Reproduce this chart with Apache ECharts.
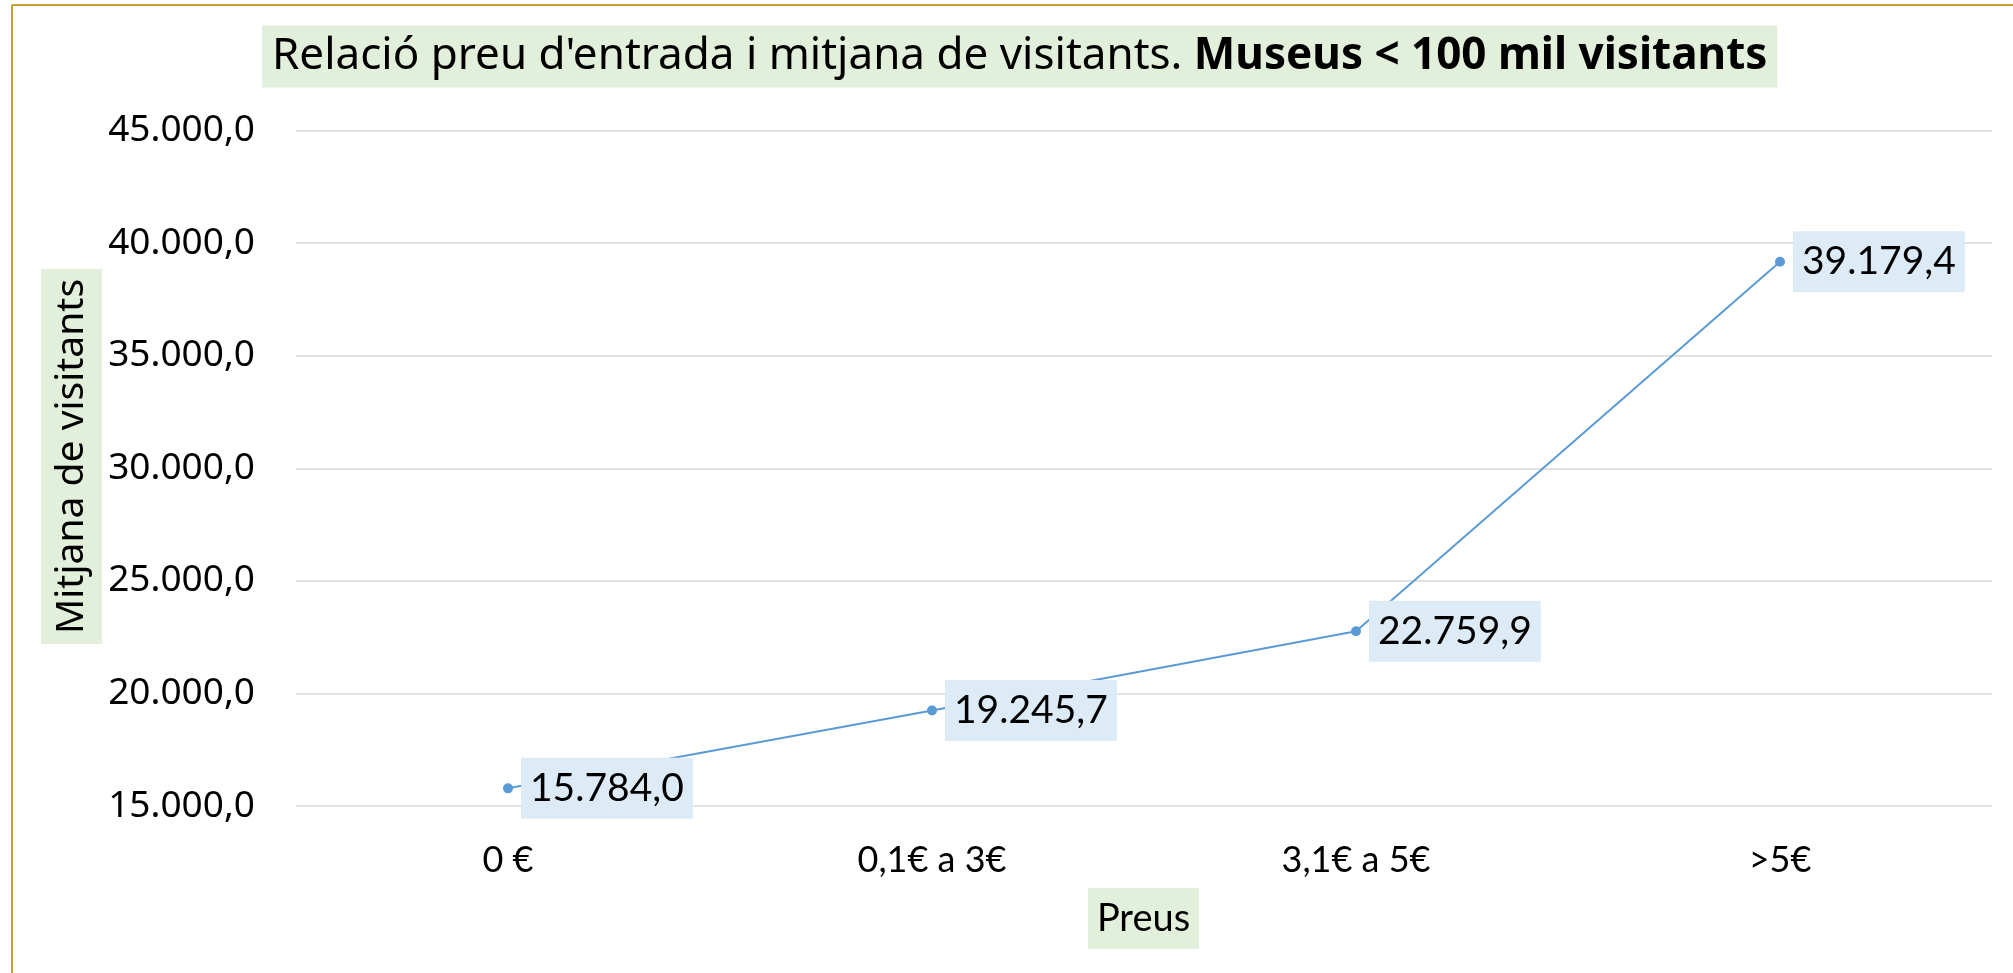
<!DOCTYPE html>
<html>
<head>
<meta charset="utf-8">
<script src="https://cdn.jsdelivr.net/npm/echarts@6/dist/echarts.min.js"></script>
<style>
html,body{margin:0;padding:0;background:#fff;}
#chart{width:2013px;height:973px;}
</style>
</head>
<body>
<div id="chart"></div>
<script>
const categories = ['0 €', '0,1€ a 3€', '3,1€ a 5€', '>5€'];
const visitants = [15784.0, 19245.7, 22759.9, 39179.4];
const yMin = 15000, yMax = 45000, yStep = 5000;
const titleRegular = "Relació preu d'entrada i mitjana de visitants. ";
const titleBold = 'Museus < 100 mil visitants';
const yTitle = 'Mitjana de visitants';
const xTitle = 'Preus';

function fmt(v) {
  const s = Number(v).toFixed(1);
  const parts = s.split('.');
  return parts[0].replace(/\B(?=(\d{3})+(?!\d))/g, '.') + ',' + parts[1];
}

const chart = echarts.init(document.getElementById('chart'), null, {renderer: 'canvas'});
chart.setOption({
  backgroundColor: '#ffffff',
  animation: false,
  title: {
    left: 262,
    top: 21,
    padding: [9, 10],
    backgroundColor: '#e2efda',
    text: '{a|' + titleRegular + '}{b|' + titleBold + '}',
    textStyle: {
      fontWeight: 'normal',
      rich: {
        a: {fontFamily: 'Noto Sans', fontSize: 44, color: '#000', fontWeight: 'normal', lineHeight: 53},
        b: {fontFamily: 'Noto Sans', fontSize: 44, color: '#000', fontWeight: 'bold', lineHeight: 53}
      }
    }
  },
  grid: {left: 296, right: 21, top: 130.7, bottom: 167, containLabel: false},
  xAxis: {
    type: 'category',
    data: categories,
    boundaryGap: true,
    axisLine: {show: false},
    axisTick: {show: false},
    axisLabel: {fontFamily: 'Lato', fontSize: 36, color: '#000', margin: 36}
  },
  yAxis: {
    type: 'value',
    min: yMin,
    max: yMax,
    interval: yStep,
    axisLine: {show: false},
    axisTick: {show: false},
    axisLabel: {fontFamily: 'Noto Sans', fontSize: 37, color: '#000', margin: 41, formatter: fmt},
    splitLine: {show: true, lineStyle: {color: '#d9d9d9', width: 1.5}}
  },
  series: [{
    type: 'line',
    data: visitants,
    symbol: 'circle',
    symbolSize: 10,
    lineStyle: {color: '#5b9bd5', width: 2},
    itemStyle: {color: '#5b9bd5'},
    label: {
      show: true,
      position: 'right',
      distance: 8,
      formatter: p => fmt(p.value),
      fontFamily: 'Lato',
      fontSize: 39,
      color: '#000',
      lineHeight: 41,
      backgroundColor: '#ddebf7',
      padding: [10, 9]
    }
  }],
  graphic: [
    {type: 'line', shape: {x1: 12, y1: 5, x2: 2013, y2: 5}, style: {stroke: '#c9a133', lineWidth: 2}},
    {type: 'line', shape: {x1: 12, y1: 5, x2: 12, y2: 973}, style: {stroke: '#c9a133', lineWidth: 2}},
    {
      type: 'text', x: 71.5, y: 456.5, rotation: Math.PI / 2,
      style: {
        text: yTitle, fill: '#000', font: '39px "Noto Sans"', align: 'center', verticalAlign: 'middle',
        backgroundColor: '#e2efda', padding: [10, 10], lineHeight: 41
      }
    },
    {
      type: 'text', x: 1143.5, y: 918.5,
      style: {
        text: xTitle, fill: '#000', font: '38px Lato', align: 'center', verticalAlign: 'middle',
        backgroundColor: '#e2efda', padding: [10, 9], lineHeight: 41
      }
    }
  ]
});
</script>
</body>
</html>
